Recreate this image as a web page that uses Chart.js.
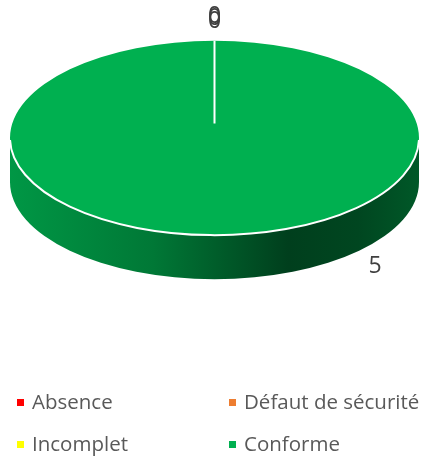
<!DOCTYPE html>
<html>
<head>
<meta charset="utf-8">
<script src="https://cdn.jsdelivr.net/npm/chart.js@4.4.1/dist/chart.umd.min.js"></script>
<style>
  html, body { margin: 0; padding: 0; background: #fff; overflow: hidden; }
  #wrap { width: 425px; height: 461px; }
</style>
</head>
<body>
<div id="wrap"><canvas id="chart" width="425" height="461"></canvas></div>
<script>
// data
const categories = ['Absence', 'Défaut de sécurité', 'Incomplet', 'Conforme'];
const counts = [0, 0, 0, 5];
const sliceColors = ['#FF0000', '#ED7D31', '#FFFF00', '#00B050'];

// look of the 3d disc
const TILT = 0.475;     // vertical squash of the top face
const DEPTH = 44;       // thickness of the disc
const TOP_Y = 138;      // centre of the top face
const LABEL_GAP = 23;
const FULL_LABEL_ANGLE = 47 * Math.PI / 180; // where excel put the label of a full slice
const LABEL_FONT = '23px "Open Sans", sans-serif';
const LEGEND_FONT = '20.5px "Open Sans", sans-serif';
const LEGEND_COLS = [17, 229];
const LEGEND_ROWS = [403, 445];

function shade(hex, f) {
    const n = parseInt(hex.slice(1), 16);
    const r = Math.round(((n >> 16) & 255) * f), g = Math.round(((n >> 8) & 255) * f), b = Math.round((n & 255) * f);
    return `rgb(${r},${g},${b})`;
}

// side of the disc: horizontal shading like excel
function sideGradient(ctx, color, cx, R) {
    const g = ctx.createLinearGradient(cx - R, 0, cx + R, 0);
    g.addColorStop(0, shade(color, 0.86));
    g.addColorStop(0.35, shade(color, 0.68));
    g.addColorStop(0.68, shade(color, 0.36));
    g.addColorStop(0.85, shade(color, 0.40));
    g.addColorStop(1, shade(color, 0.50));
    return g;
}

// part of an arc that lies on the front half (0..PI)
function frontRange(a0, a1) {
    const out = [];
    for (let s = -2; s <= 2; s++) {
        const lo = Math.max(a0, s * 2 * Math.PI), hi = Math.min(a1, s * 2 * Math.PI + Math.PI);
        if (hi > lo) out.push([lo, hi]);
    }
    return out;
}

const disc3d = {
    id: 'disc3d',
    beforeDatasetsDraw(chart) {
        const ctx = chart.ctx;
        const arcs = chart.getDatasetMeta(0).data;
        const cx = arcs[0].x, R = arcs[0].outerRadius, ry = R * TILT;
        arcs.forEach((arc, i) => {
            frontRange(arc.startAngle, arc.endAngle).forEach(([a0, a1]) => {
                ctx.beginPath();
                ctx.ellipse(cx, TOP_Y, R, ry, 0, a0, a1);
                ctx.ellipse(cx, TOP_Y + DEPTH, R, ry, 0, a1, a0, true);
                ctx.closePath();
                ctx.fillStyle = sideGradient(ctx, sliceColors[i], cx, R);
                ctx.fill();
            });
        });
        // squash the pie into the top face
        ctx.save();
        ctx.translate(0, TOP_Y);
        ctx.scale(1, TILT);
        ctx.translate(0, -arcs[0].y);
    },
    afterDatasetsDraw(chart) {
        const ctx = chart.ctx;
        ctx.restore();
        const arcs = chart.getDatasetMeta(0).data;
        const cx = arcs[0].x, R = arcs[0].outerRadius, ry = R * TILT;

        // white rim on the front edge + slice borders
        ctx.save();
        ctx.strokeStyle = '#ffffff';
        ctx.lineWidth = 2;
        ctx.beginPath();
        ctx.ellipse(cx, TOP_Y, R, ry, 0, 0.02, Math.PI - 0.02);
        ctx.stroke();
        ctx.beginPath();
        arcs.forEach(arc => {
            const c = Math.cos(arc.startAngle), s = Math.sin(arc.startAngle);
            ctx.moveTo(cx + 0.15 * R * c, TOP_Y + 0.15 * ry * s);
            ctx.lineTo(cx + R * c, TOP_Y + ry * s);
        });
        ctx.stroke();
        ctx.restore();

        // value labels outside
        ctx.save();
        ctx.font = LABEL_FONT;
        ctx.fillStyle = '#404040';
        ctx.textAlign = 'center';
        ctx.textBaseline = 'middle';
        let zeros = 0;
        arcs.forEach((arc, i) => {
            const full = arc.circumference >= 2 * Math.PI - 1e-6;
            const a = full ? FULL_LABEL_ANGLE : (arc.startAngle + arc.endAngle) / 2;
            const r = R + LABEL_GAP;
            const s = Math.sin(a), c = Math.cos(a);
            let x = cx + r * c + 8 * c;
            let y = TOP_Y + r * TILT * s + (s > 0 ? DEPTH + 5 : -11);
            if (counts[i] === 0) { y += (zeros - 1) * 2.5; zeros++; }
            ctx.fillText(String(counts[i]), x, y);
        });
        ctx.restore();
    },
    afterDraw(chart) {
        const ctx = chart.ctx;
        ctx.save();
        ctx.font = LEGEND_FONT;
        ctx.textBaseline = 'middle';
        categories.forEach((name, i) => {
            const x = LEGEND_COLS[i % 2], y = LEGEND_ROWS[Math.floor(i / 2)];
            ctx.fillStyle = sliceColors[i];
            ctx.fillRect(x, y - 4, 7, 7);
            ctx.fillStyle = '#595959';
            ctx.fillText(name, x + 15, y);
        });
        ctx.restore();
    }
};

new Chart(document.getElementById('chart'), {
    type: 'pie',
    data: {
        labels: categories,
        datasets: [{
            data: counts,
            backgroundColor: sliceColors,
            borderWidth: 0
        }]
    },
    options: {
        responsive: false,
        animation: false,
        layout: { padding: { left: 10, right: 6, top: 20, bottom: 32 } },
        plugins: { legend: { display: false }, tooltip: { enabled: false } }
    },
    plugins: [disc3d]
});
</script>
</body>
</html>
